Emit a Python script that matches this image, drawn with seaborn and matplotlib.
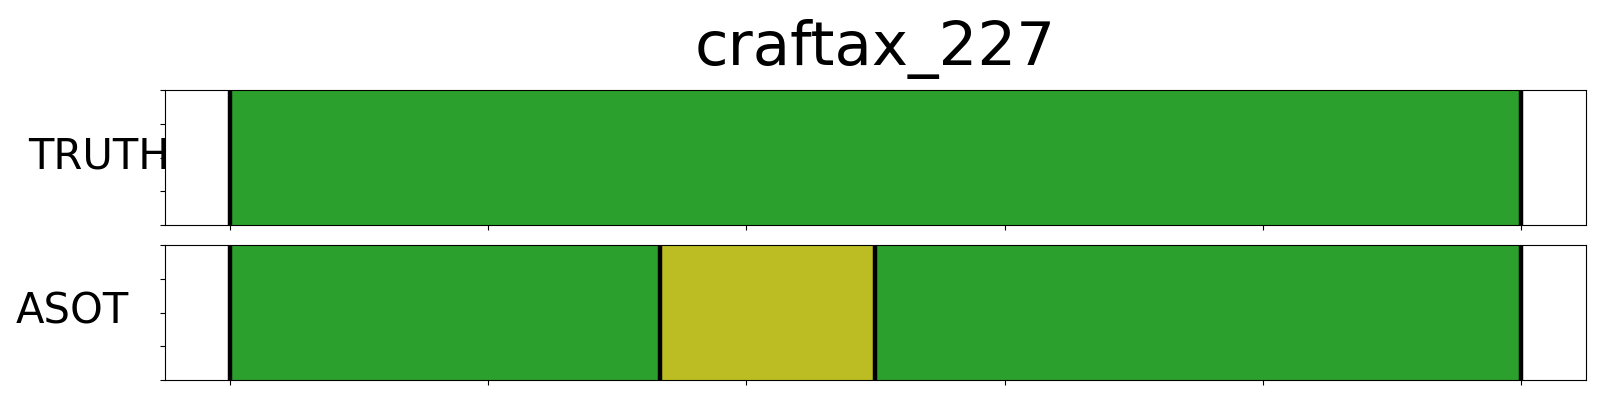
import numpy as np
import matplotlib
matplotlib.use("Agg")
import matplotlib.pyplot as plt
from matplotlib.colors import ListedColormap
import seaborn as sns

title = "craftax_227"
rows = ["TRUTH", "ASOT"]
total_len = 300
truth_bounds = [0, 300]
truth_labels = [0]
asot_bounds = [0, 100, 150, 300]
asot_labels = [0, 1, 0]
palette = ["#2ca02c", "#bcbd22"]

fig = plt.figure(figsize=(16, 4), dpi=100)
ax1 = fig.add_axes([0.1033, 0.4375, 0.8877, 0.337])
ax2 = fig.add_axes([0.1033, 0.05, 0.8877, 0.337])
cmap = ListedColormap(palette)

label_pos = {"TRUTH": 0.0175, "ASOT": 0.0095}
for ax, name, bounds, labels in [(ax1, "TRUTH", truth_bounds, truth_labels),
                                 (ax2, "ASOT", asot_bounds, asot_labels)]:
    frames = np.repeat(labels, np.diff(bounds))[None, :]
    sns.heatmap(frames, cmap=cmap, vmin=-0.5, vmax=len(palette) - 0.5,
                cbar=False, ax=ax, xticklabels=False, yticklabels=False)
    ax.set_xlim(-0.05 * total_len, 1.05 * total_len)
    ax.set_ylim(0, 1)
    for b in bounds:
        ax.axvline(b, color="black", lw=3.2, zorder=3)
    for s in ax.spines.values():
        s.set_visible(True)
        s.set_color("black")
        s.set_linewidth(0.8)
    ax.set_xticks(np.linspace(0, total_len, 6))
    ax.set_xticklabels([])
    ax.set_yticks(np.linspace(0, 1, 5))
    ax.set_yticklabels([])
    ax.tick_params(length=3.5, width=0.8, color="black", left=True, bottom=True)
    ax.set_xlabel("")
    ax.set_ylabel("")
    bb = ax.get_position()
    fig.text(label_pos[name], bb.y0 + bb.height / 2 + 0.002, name, fontsize=30,
             ha="left", va="center")

ax1.set_title(title, fontsize=44, pad=18.5)
fig.savefig("out.png", dpi=100)
